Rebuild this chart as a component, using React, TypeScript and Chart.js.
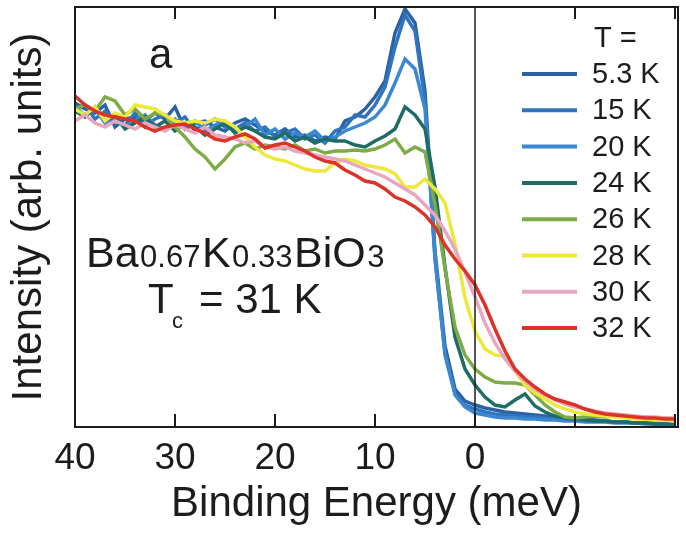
import React, { useEffect, useRef } from "react";
import { Chart, registerables } from "chart.js";

Chart.register(...registerables);

// Binding energy grid (meV), shared by all spectra
const ENERGY = [
  40, 39, 38, 37, 36, 35, 34, 33, 32, 31,
  30, 29, 28, 27, 26, 25, 24, 23, 22, 21,
  20, 19, 18, 17, 16, 15, 14, 13, 12, 11,
  10, 9, 8, 7, 6, 5, 4, 3, 2, 1,
  0, -1, -2, -3, -4, -5, -6, -7, -8, -9,
  -10, -11, -12, -13, -14, -15, -16, -17, -18, -19,
  -20,
];

const X_TICKS = [40, 30, 20, 10, 0];
const INNER_TICKS = [30, 20, 10, -10, -20];

const LABELS = ["5.3 K", "15 K", "20 K", "24 K", "26 K", "28 K", "30 K", "32 K"];
const COLORS = ["#2b62a6", "#3074bd", "#3b88d2", "#1f6b66", "#7dab46", "#ece83c", "#e8a6c0", "#dc3328"];

// Intensity (arb. units)
const T5_3 = [
  324, 318, 314, 322, 300, 308, 310, 306, 314, 308,
  320, 298, 304, 306, 300, 296, 304, 308, 302, 296,
  292, 298, 290, 292, 286, 290, 288, 306, 310, 318,
  330, 346, 394, 418, 404, 336, 176, 81, 38, 26,
  22, 19, 17, 15, 14, 13, 12, 11, 10, 9,
  8, 8, 7, 6, 5, 5, 4, 4, 3, 3,
  2,
];
const T15 = [
  318, 322, 308, 316, 306, 302, 314, 300, 308, 312,
  304, 310, 296, 302, 308, 300, 298, 304, 296, 300,
  290, 294, 298, 288, 292, 284, 296, 300, 312, 310,
  322, 340, 380, 412, 396, 326, 168, 74, 34, 22,
  18, 15, 13, 12, 11, 10, 10, 9, 8, 8,
  7, 7, 6, 6, 5, 5, 4, 4, 4, 3,
  3,
];
const T20 = [
  320, 312, 318, 304, 310, 300, 306, 312, 302, 298,
  308, 300, 306, 296, 302, 306, 296, 300, 308, 292,
  298, 288, 294, 290, 296, 286, 290, 296, 300, 304,
  310, 322, 344, 368, 358, 318, 170, 72, 32, 20,
  14, 12, 10, 9, 9, 8, 8, 7, 7, 6,
  6, 5, 5, 5, 4, 4, 4, 3, 3, 3,
  2,
];
const T24 = [
  316, 310, 320, 306, 312, 298, 304, 310, 300, 306,
  296, 304, 300, 292, 298, 304, 294, 300, 296, 290,
  288, 294, 286, 290, 284, 288, 286, 286, 282, 280,
  286, 291, 298, 320, 312, 298, 240, 160, 90, 58,
  42, 30, 22, 20, 27, 33, 21, 15, 11, 9,
  8, 7, 6, 6, 5, 5, 4, 4, 3, 3,
  2,
];
const T26 = [
  318, 322, 316, 330, 326, 312, 318, 308, 314, 312,
  300, 290, 278, 270, 258, 268, 280, 284, 278, 282,
  280, 278, 282, 276, 278, 274, 276, 276, 277, 276,
  278, 282, 288, 274, 280, 275, 222, 158, 100, 72,
  58, 50, 45, 44, 44, 42, 32, 22, 15, 10,
  9, 10, 11, 10, 11, 11, 10, 10, 9, 9,
  8,
];
const T28 = [
  318, 312, 320, 306, 314, 310, 322, 320, 318, 312,
  306, 304, 306, 304, 308, 306, 300, 290, 280, 272,
  268, 266, 262, 258, 256, 256, 264, 268, 266, 262,
  260, 258, 253, 240, 240, 248, 238, 224, 183, 129,
  96, 78, 72, 71, 56, 42, 34, 28, 22, 18,
  15, 13, 12, 11, 10, 9, 8, 8, 7, 7,
  6,
];
const T30 = [
  306, 312, 304, 300, 306, 302, 298, 304, 300, 296,
  302, 298, 294, 300, 292, 290, 288, 284, 286, 280,
  278, 280, 276, 274, 272, 270, 268, 266, 262, 258,
  254, 250, 244, 238, 232, 222, 212, 196, 178, 155,
  130, 104, 84, 68, 56, 46, 38, 32, 27, 23,
  20, 18, 16, 14, 13, 12, 11, 10, 10, 9,
  9,
];
const T32 = [
  331, 322, 316, 312, 310, 308, 306, 300, 296, 300,
  302, 303, 298, 294, 288, 286, 290, 293, 288, 279,
  282, 284, 280, 276, 270, 266, 264, 257, 252, 246,
  244, 238, 230, 226, 220, 212, 200, 182, 168, 156,
  142, 122, 98, 76, 58, 48, 40, 33, 28, 25,
  22, 18, 15, 13, 12, 11, 10, 9, 9, 8,
  8,
];

const SERIES = [T5_3, T15, T20, T24, T26, T28, T30, T32];

const FONT = "'Liberation Sans', Arial, Helvetica, sans-serif";
const INK = "#1c1c1c";

const decorations = {
  id: "decorations",
  afterDatasetsDraw(chart: any) {
    const { ctx, chartArea: a, scales } = chart;
    const x = scales.x;
    ctx.save();
    ctx.strokeStyle = INK;
    ctx.fillStyle = INK;
    ctx.lineCap = "butt";

    const seg = (x1: number, y1: number, x2: number, y2: number) => {
      ctx.beginPath();
      ctx.moveTo(x1, y1);
      ctx.lineTo(x2, y2);
      ctx.stroke();
    };

    // zero line
    const x0 = x.getPixelForValue(0);
    ctx.lineWidth = 1.5;
    seg(x0, a.top, x0, a.bottom);

    // inner ticks top and bottom
    ctx.lineWidth = 2;
    for (const v of INNER_TICKS) {
      const px = x.getPixelForValue(v);
      if (px <= a.left + 1 || px >= a.right - 1) continue;
      seg(px, a.bottom, px, a.bottom - 13);
      seg(px, a.top, px, a.top + 12);
    }
    seg(x0, a.bottom, x0, a.bottom - 13);

    // frame
    ctx.lineWidth = 2;
    ctx.strokeRect(a.left, a.top, a.right - a.left, a.bottom - a.top);

    // legend
    ctx.textBaseline = "middle";
    ctx.textAlign = "left";
    ctx.font = `29px ${FONT}`;
    ctx.fillText("T =", 594, 39);
    chart.data.datasets.forEach((ds: any, i: number) => {
      const y = 74 + i * 36.3;
      ctx.strokeStyle = ds.borderColor;
      ctx.lineWidth = 4;
      seg(522, y, 577, y);
      ctx.fillStyle = INK;
      ctx.fillText(ds.label, 592, y + 1);
    });

    // panel letter
    ctx.textBaseline = "alphabetic";
    ctx.fillStyle = INK;
    ctx.font = `42px ${FONT}`;
    ctx.fillText("a", 149, 68);

    // compound formula
    const parts: [string, number][] = [
      ["Ba", 43], ["0.67", 31], ["K", 43], ["0.33", 31], ["BiO", 43], ["3", 31],
    ];
    let cx = 86;
    for (const [t, s] of parts) {
      ctx.font = `${s}px ${FONT}`;
      ctx.fillText(t, cx, 267);
      cx += ctx.measureText(t).width + 1.5;
    }

    // Tc
    ctx.font = `42px ${FONT}`;
    ctx.fillText("T", 148, 313);
    ctx.font = `22px ${FONT}`;
    ctx.fillText("c", 172, 328);
    ctx.font = `42px ${FONT}`;
    ctx.fillText("= 31 K", 199, 313);

    ctx.restore();
  },
};

export default function App() {
  const ref = useRef<HTMLCanvasElement | null>(null);

  useEffect(() => {
    const canvas = ref.current;
    if (!canvas) return;
    const chart = new Chart(canvas, {
      type: "line",
      data: {
        datasets: SERIES.map((vals, i) => ({
          label: LABELS[i],
          data: ENERGY.map((e, j) => ({ x: e, y: vals[j] })),
          borderColor: COLORS[i],
          backgroundColor: COLORS[i],
          borderWidth: 3.5,
          pointRadius: 0,
          tension: 0,
          fill: false,
          order: -i,
        })),
      },
      options: {
        responsive: false,
        animation: false,
        devicePixelRatio: 1,
        layout: { padding: { top: 7, right: 8, left: 0, bottom: 0 } },
        plugins: { legend: { display: false }, tooltip: { enabled: false } },
        scales: {
          x: {
            type: "linear",
            reverse: true,
            min: -20.3,
            max: 40,
            afterBuildTicks: (s: any) => {
              s.ticks = X_TICKS.map((v) => ({ value: v }));
            },
            afterFit: (s: any) => {
              s.height = 106;
            },
            grid: { display: false, drawTicks: false },
            border: { display: false },
            ticks: {
              padding: 10,
              autoSkip: false,
              maxRotation: 0,
              color: INK,
              font: { family: FONT, size: 37 },
            },
            title: {
              display: true,
              text: "Binding Energy (meV)",
              color: INK,
              font: { family: FONT, size: 42, lineHeight: 1.1 },
              padding: { top: 0, bottom: 5 },
            },
          },
          y: {
            min: 0,
            max: 420,
            afterFit: (s: any) => {
              s.width = 75;
            },
            grid: { display: false, drawTicks: false },
            border: { display: false },
            ticks: { display: false },
            title: {
              display: true,
              text: "Intensity (arb. units)",
              color: INK,
              font: { family: FONT, size: 42, lineHeight: 1.1 },
              padding: { top: 6, bottom: 0 },
            },
          },
        },
      },
      plugins: [decorations],
    });
    return () => chart.destroy();
  }, []);

  return (
    <div style={{ position: "fixed", left: 0, top: 0, width: 686, height: 533, background: "#fff" }}>
      <canvas ref={ref} width={686} height={533} style={{ display: "block" }} />
    </div>
  );
}
